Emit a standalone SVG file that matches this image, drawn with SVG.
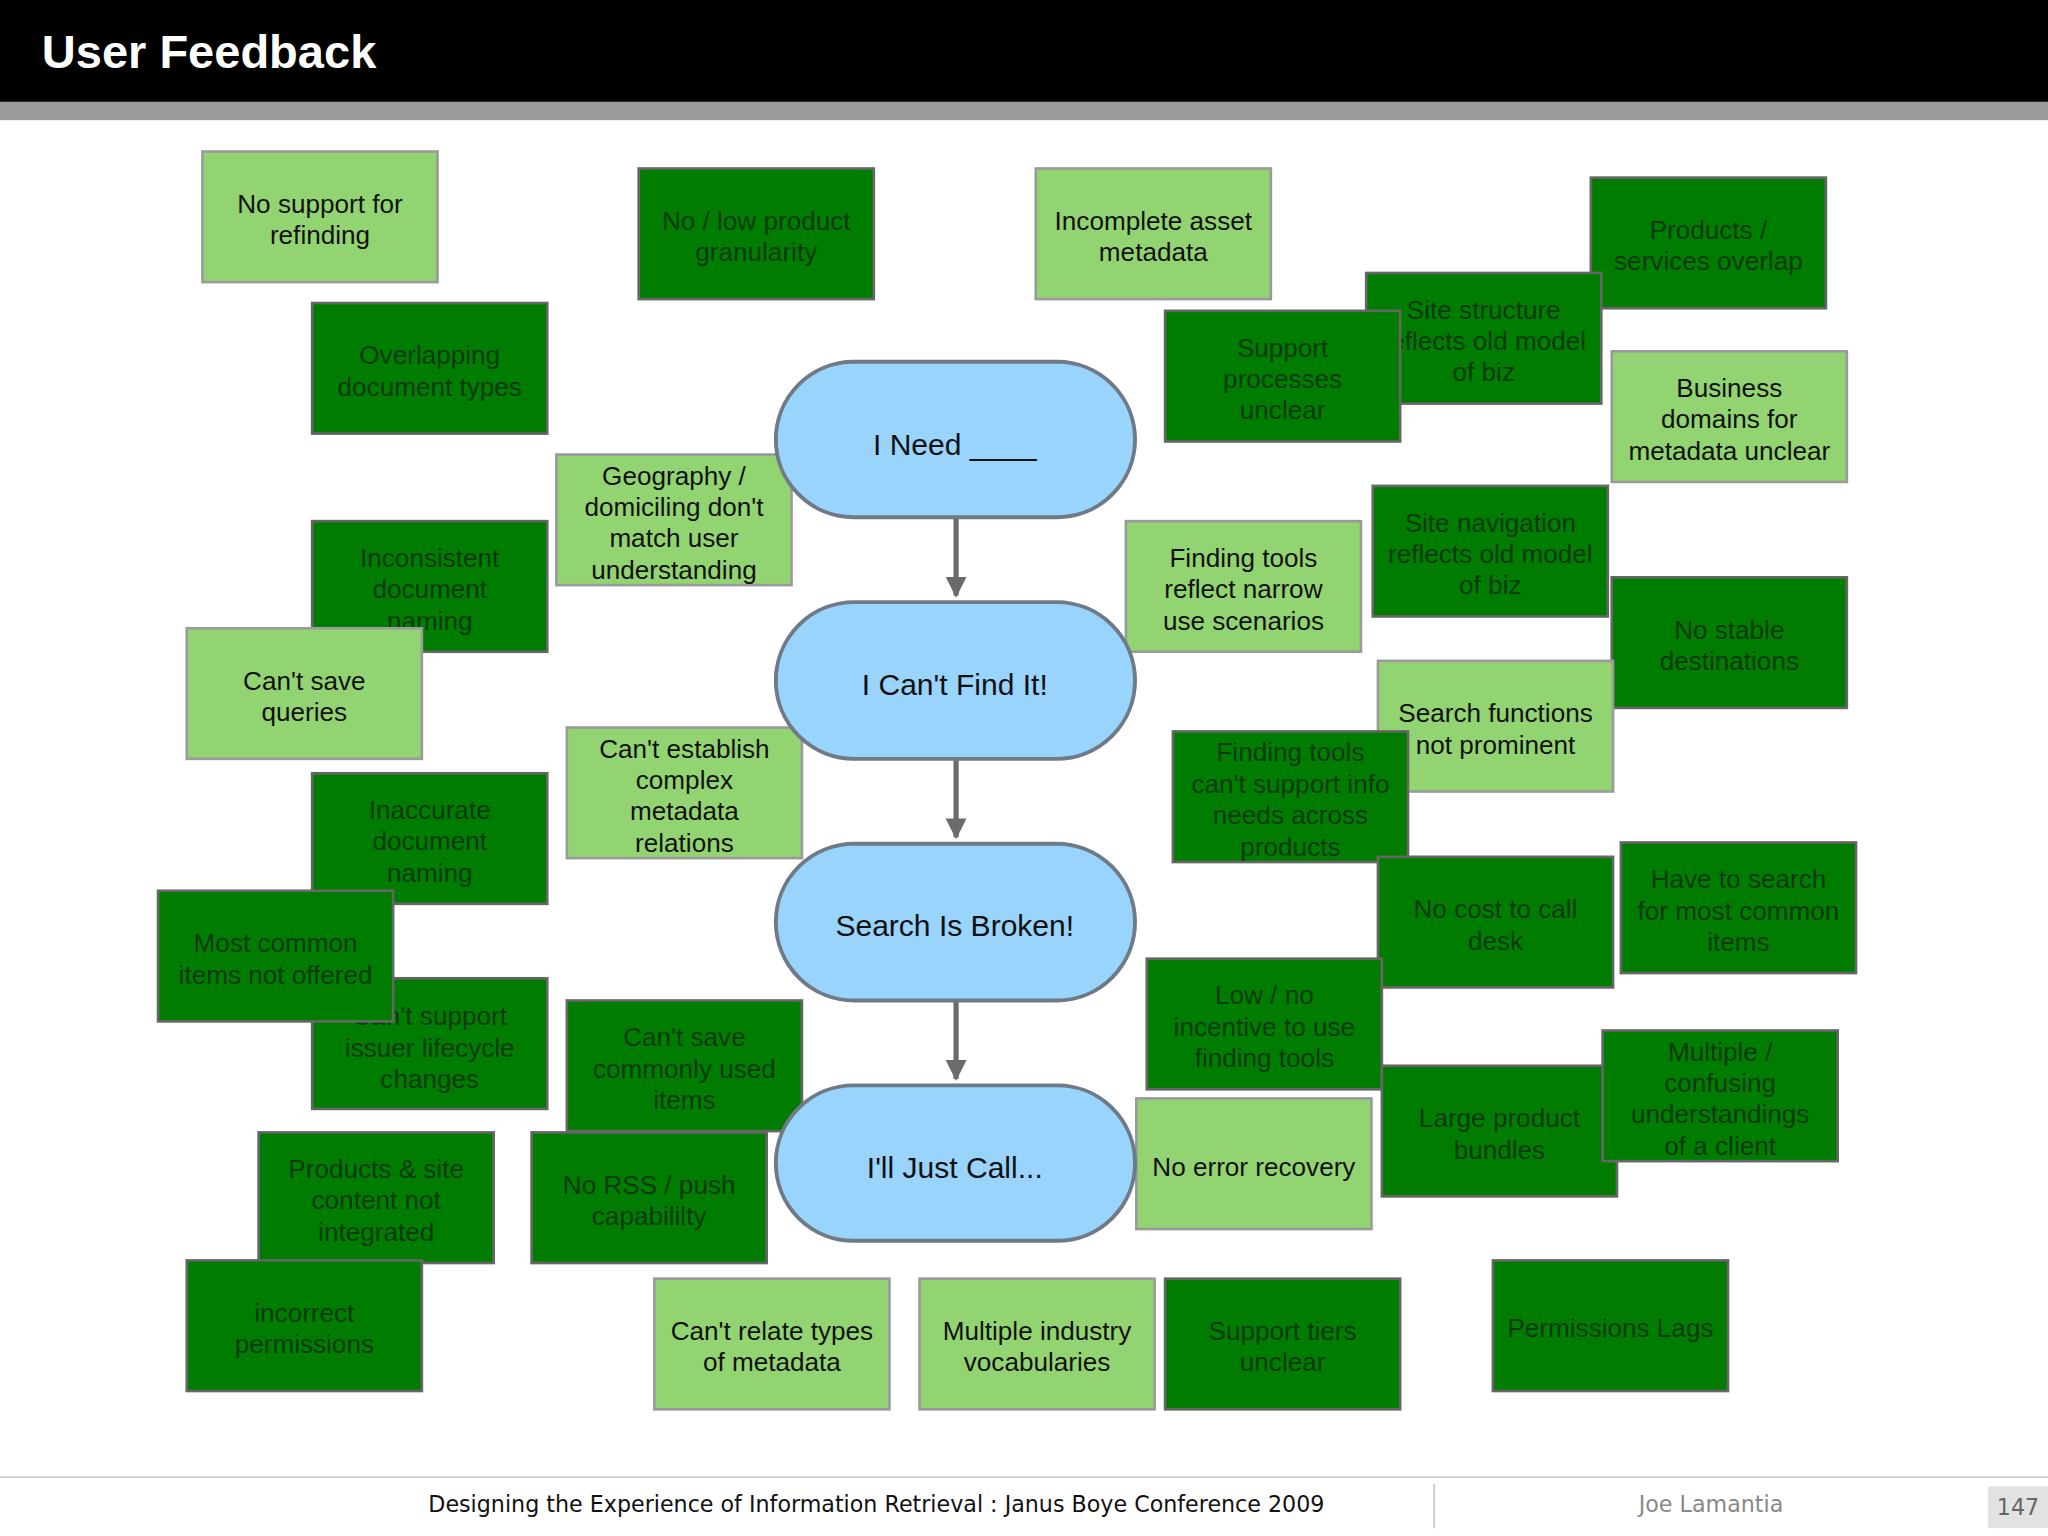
<svg xmlns="http://www.w3.org/2000/svg" width="2048" height="1536" viewBox="0 0 2048 1536">
<style>
.L{fill:#93d472;stroke:#9a9a9a;stroke-width:2}
.D{fill:#007d00;stroke:#666;stroke-width:2}
text{font-family:"Liberation Sans",Arial,sans-serif;font-size:20px;text-anchor:middle}
.tl{fill:#111}
.td{fill:#0c3a0c}
.pill{fill:#99d4fd;stroke:#6f7a86;stroke-width:3}
.pt{font-size:23px;fill:#111}
.ar{stroke:#6b6b6b;stroke-width:4;fill:none}
</style>
<defs><marker id="ah" viewBox="0 0 10 10" refX="9" refY="5" markerWidth="4" markerHeight="4" orient="auto"><path d="M0,0L10,5L0,10z" fill="#6b6b6b"/></marker></defs>
<rect width="2048" height="1536" fill="#fff"/>
<g transform="scale(1.30612)">
<rect x="0" y="0" width="1568" height="78" fill="#000"/>
<rect x="0" y="78" width="1568" height="14" fill="#9a9a9a"/>
<text x="32" y="52" style="font-size:36px;font-weight:bold;fill:#fff;text-anchor:start">User Feedback</text>

<g id="n1"><rect class="L" x="155" y="116" width="180" height="100"/><text class="tl" x="245" y="163">No support for</text><text class="tl" x="245" y="187">refinding</text></g>
<g id="n2"><rect class="D" x="489" y="129" width="180" height="100"/><text class="td" x="579" y="176">No / low product</text><text class="td" x="579" y="200">granularity</text></g>
<g id="n3"><rect class="L" x="793" y="129" width="180" height="100"/><text class="tl" x="883" y="176">Incomplete asset</text><text class="tl" x="883" y="200">metadata</text></g>
<g id="n4"><rect class="D" x="1218" y="136" width="180" height="100"/><text class="td" x="1308" y="183">Products /</text><text class="td" x="1308" y="207">services overlap</text></g>
<g id="n5"><rect class="D" x="1046" y="209" width="180" height="100"/><text class="td" x="1136" y="244">Site structure</text><text class="td" x="1136" y="268">reflects old model</text><text class="td" x="1136" y="292">of biz</text></g>
<g id="n6"><rect class="D" x="892" y="238" width="180" height="100"/><text class="td" x="982" y="273">Support</text><text class="td" x="982" y="297">processes</text><text class="td" x="982" y="321">unclear</text></g>
<g id="n7"><rect class="L" x="1234" y="269" width="180" height="100"/><text class="tl" x="1324" y="304">Business</text><text class="tl" x="1324" y="328">domains for</text><text class="tl" x="1324" y="352">metadata unclear</text></g>
<g id="n8"><rect class="D" x="239" y="232" width="180" height="100"/><text class="td" x="329" y="279">Overlapping</text><text class="td" x="329" y="303">document types</text></g>
<g id="n9"><rect class="L" x="426" y="348" width="180" height="100"/><text class="tl" x="516" y="371">Geography /</text><text class="tl" x="516" y="395">domiciling don't</text><text class="tl" x="516" y="419">match user</text><text class="tl" x="516" y="443">understanding</text></g>
<g id="n10"><rect class="D" x="239" y="399" width="180" height="100"/><text class="td" x="329" y="434">Inconsistent</text><text class="td" x="329" y="458">document</text><text class="td" x="329" y="482">naming</text></g>
<g id="n11"><rect class="L" x="143" y="481" width="180" height="100"/><text class="tl" x="233" y="528">Can't save</text><text class="tl" x="233" y="552">queries</text></g>
<g id="n12"><rect class="L" x="862" y="399" width="180" height="100"/><text class="tl" x="952" y="434">Finding tools</text><text class="tl" x="952" y="458">reflect narrow</text><text class="tl" x="952" y="482">use scenarios</text></g>
<g id="n13"><rect class="D" x="1051" y="372" width="180" height="100"/><text class="td" x="1141" y="407">Site navigation</text><text class="td" x="1141" y="431">reflects old model</text><text class="td" x="1141" y="455">of biz</text></g>
<g id="n14"><rect class="D" x="1234" y="442" width="180" height="100"/><text class="td" x="1324" y="489">No stable</text><text class="td" x="1324" y="513">destinations</text></g>
<g id="n15"><rect class="L" x="1055" y="506" width="180" height="100"/><text class="tl" x="1145" y="553">Search functions</text><text class="tl" x="1145" y="577">not prominent</text></g>
<g id="n16"><rect class="D" x="898" y="560" width="180" height="100"/><text class="td" x="988" y="583">Finding tools</text><text class="td" x="988" y="607">can't support info</text><text class="td" x="988" y="631">needs across</text><text class="td" x="988" y="655">products</text></g>
<g id="n17"><rect class="L" x="434" y="557" width="180" height="100"/><text class="tl" x="524" y="580">Can't establish</text><text class="tl" x="524" y="604">complex</text><text class="tl" x="524" y="628">metadata</text><text class="tl" x="524" y="652">relations</text></g>
<g id="n18"><rect class="D" x="239" y="592" width="180" height="100"/><text class="td" x="329" y="627">Inaccurate</text><text class="td" x="329" y="651">document</text><text class="td" x="329" y="675">naming</text></g>
<g id="n20"><rect class="D" x="239" y="749" width="180" height="100"/><text class="td" x="329" y="785">Can't support</text><text class="td" x="329" y="809">issuer lifecycle</text><text class="td" x="329" y="833">changes</text></g>
<g id="n19"><rect class="D" x="121" y="682" width="180" height="100"/><text class="td" x="211" y="729">Most common</text><text class="td" x="211" y="753">items not offered</text></g>
<g id="n21"><rect class="D" x="1055" y="656" width="180" height="100"/><text class="td" x="1145" y="703">No cost to call</text><text class="td" x="1145" y="727">desk</text></g>
<g id="n22"><rect class="D" x="1241" y="645" width="180" height="100"/><text class="td" x="1331" y="680">Have to search</text><text class="td" x="1331" y="704">for most common</text><text class="td" x="1331" y="728">items</text></g>
<g id="n23"><rect class="D" x="878" y="734" width="180" height="100"/><text class="td" x="968" y="769">Low / no</text><text class="td" x="968" y="793">incentive to use</text><text class="td" x="968" y="817">finding tools</text></g>
<g id="n24"><rect class="D" x="434" y="766" width="180" height="100"/><text class="td" x="524" y="801">Can't save</text><text class="td" x="524" y="825">commonly used</text><text class="td" x="524" y="849">items</text></g>
<g id="n26"><rect class="D" x="1058" y="816" width="180" height="100"/><text class="td" x="1148" y="863">Large product</text><text class="td" x="1148" y="887">bundles</text></g>
<g id="n25"><rect class="D" x="1227" y="789" width="180" height="100"/><text class="td" x="1317" y="812">Multiple /</text><text class="td" x="1317" y="836">confusing</text><text class="td" x="1317" y="860">understandings</text><text class="td" x="1317" y="884">of a client</text></g>
<g id="n27"><rect class="L" x="870" y="841" width="180" height="100"/><text class="tl" x="960" y="900">No error recovery</text></g>
<g id="n28"><rect class="D" x="198" y="867" width="180" height="100"/><text class="td" x="288" y="902">Products &amp; site</text><text class="td" x="288" y="926">content not</text><text class="td" x="288" y="950">integrated</text></g>
<g id="n29"><rect class="D" x="407" y="867" width="180" height="100"/><text class="td" x="497" y="914">No RSS / push</text><text class="td" x="497" y="938">capabililty</text></g>
<g id="n30"><rect class="D" x="143" y="965" width="180" height="100"/><text class="td" x="233" y="1012">incorrect</text><text class="td" x="233" y="1036">permissions</text></g>
<g id="n31"><rect class="L" x="501" y="979" width="180" height="100"/><text class="tl" x="591" y="1026">Can't relate types</text><text class="tl" x="591" y="1050">of metadata</text></g>
<g id="n32"><rect class="L" x="704" y="979" width="180" height="100"/><text class="tl" x="794" y="1026">Multiple industry</text><text class="tl" x="794" y="1050">vocabularies</text></g>
<g id="n33"><rect class="D" x="892" y="979" width="180" height="100"/><text class="td" x="982" y="1026">Support tiers</text><text class="td" x="982" y="1050">unclear</text></g>
<g id="n34"><rect class="D" x="1143" y="965" width="180" height="100"/><text class="td" x="1233" y="1024">Permissions Lags</text></g>

<g id="connectors">
<line class="ar" x1="732" y1="397" x2="732" y2="456" marker-end="url(#ah)"/>
<line class="ar" x1="732" y1="582" x2="732" y2="641" marker-end="url(#ah)"/>
<line class="ar" x1="732" y1="767" x2="732" y2="826" marker-end="url(#ah)"/>
</g>
<g id="p1"><rect class="pill" x="594" y="277" width="275" height="119" rx="59.5"/><text class="pt" x="731" y="348">I Need  ____</text></g>
<g id="p2"><rect class="pill" x="594" y="461" width="275" height="120" rx="60"/><text class="pt" x="731" y="532">I Can't Find It!</text></g>
<g id="p3"><rect class="pill" x="594" y="646" width="275" height="120" rx="60"/><text class="pt" x="731" y="717">Search Is Broken!</text></g>
<g id="p4"><rect class="pill" x="594" y="831" width="275" height="119" rx="59.5"/><text class="pt" x="731" y="902">I'll Just Call...</text></g>

<line x1="0" y1="1131" x2="1568" y2="1131" stroke="#bbb" stroke-width="1"/>
<line x1="1098" y1="1136" x2="1098" y2="1170" stroke="#bbb" stroke-width="1"/>
<text x="671" y="1158" style="font-size:17px;fill:#111;font-family:'DejaVu Sans',sans-serif">Designing the Experience of Information Retrieval : Janus Boye Conference 2009</text>
<text x="1310" y="1158" style="font-size:17px;fill:#888;font-family:'DejaVu Sans',sans-serif">Joe Lamantia</text>
<rect x="1522" y="1138" width="46" height="32" fill="#e2e2e2"/>
<text x="1545" y="1160" style="font-size:17px;fill:#666;font-family:'DejaVu Sans',sans-serif">147</text>
</g>
</svg>
